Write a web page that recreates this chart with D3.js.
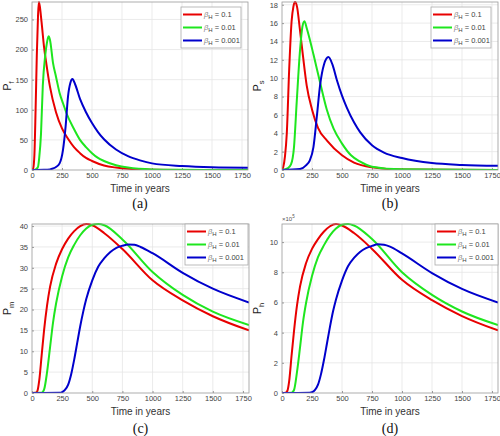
<!DOCTYPE html>
<html><head><meta charset="utf-8">
<script src="https://cdn.jsdelivr.net/npm/d3@7"></script>
<style>body{margin:0;background:#fff}svg{display:block}</style>
</head><body>
<svg id="c" width="500" height="436"></svg>
<script>
// ---- data ----
const xTicks = [0,250,500,750,1000,1250,1500,1750];
const seriesLabels = ["0.1","0.01","0.001"];
const seriesColors = ["#e80000","#1ee61e","#0000cc"];

// (a) P_f
const aRed   = [[0,0],[10,3],[20,25],[30,100],[40,190],[50,255],[57,279],[65,272],[80,245],[100,205],[120,176],[150,138],[200,96],[250,69],[300,52],[350,38],[400,28],[450,20],[500,15],[600,7.5],[700,4],[800,2],[1000,0.6],[1250,0.2],[1500,0.1],[1800,0]];
const aGreen = [[0,0],[25,0.5],[50,5],[60,20],[75,60],[90,140],[110,190],[125,212],[138,222],[150,216],[175,178],[200,155],[230,128],[260,110],[290,93],[350,68],[400,50],[450,38],[500,28],[550,20],[600,15],[700,8],[800,4],[1000,1],[1250,0.3],[1500,0.1],[1800,0]];
const aBlue  = [[0,0],[100,0.3],[150,1],[175,2.5],[200,5],[230,11],[258,33],[280,72],[300,122],[320,145],[337,151],[360,142],[400,118],[450,96],[500,78],[550,63],[600,51],[700,34],[800,23],[900,16],[1000,11],[1250,6.5],[1500,4.5],[1800,3.8]];
const aTicks = [0,50,100,150,200,250];

// (b) P_s
const bRed   = [[0,0],[10,0.3],[25,1.5],[40,4],[60,11],[80,16.2],[95,17.8],[109,18.3],[125,17.8],[150,15.2],[175,12.4],[206,9.2],[250,6.6],[300,4.6],[375,3.2],[500,1.6],[600,0.8],[750,0.3],[1000,0.05],[1800,0]];
const bGreen = [[0,0],[50,0.2],[75,0.6],[100,2.5],[123,7.5],[150,13],[170,15.6],[187,16.2],[205,15.5],[230,14.3],[262,12.6],[318,9.5],[373,6.6],[430,4.5],[499,2.9],[575,1.6],[652,0.9],[750,0.36],[1000,0.07],[1800,0]];
const bBlue  = [[0,0],[150,0.1],[200,0.5],[230,1],[262,2.5],[290,5.8],[318,9.3],[350,11.5],[387,12.3],[420,11.5],[457,9.8],[500,8.1],[540,6.8],[600,5.2],[652,4.1],[750,2.7],[850,1.9],[1000,1.3],[1250,0.75],[1500,0.55],[1800,0.45]];
const bTicks = [0,2,4,6,8,10,12,14,16,18];

// (c) P_m
const cRed   = [[0,0],[30,0.05],[45,0.5],[60,3],[80,9],[100,15],[125,21],[150,25.5],[200,31],[250,34.5],[300,37],[350,38.8],[400,40],[450,40.5],[500,40.2],[600,38.3],[750,34.5],[1000,27],[1250,22.2],[1500,18.4],[1800,15]];
const cGreen = [[0,0],[80,0.05],[100,0.8],[125,5],[150,11],[175,17],[200,21.5],[250,28],[300,32.5],[350,35.5],[400,37.8],[450,39.4],[500,40.3],[550,40.5],[600,40.2],[750,36.8],[1000,29],[1250,23.5],[1500,19.5],[1800,16.3]];
const cBlue  = [[0,0],[230,0.05],[250,0.2],[275,0.8],[300,2],[325,4.5],[350,8],[375,12],[400,16],[425,19.5],[450,22.5],[500,27],[550,30.3],[600,32.3],[650,33.8],[700,34.8],[750,35.3],[800,35.6],[850,35.5],[900,35],[1000,33.5],[1250,28.8],[1500,25],[1800,21.7]];
const cTicks = [0,5,10,15,20,25,30,35,40];

// (d) P_h (x 10^5)
const dRed   = [[0,0],[30,0.02],[45,0.15],[60,0.8],[80,2.5],[100,4.1],[125,5.8],[150,7.05],[200,8.6],[250,9.55],[300,10.2],[350,10.7],[400,11.05],[450,11.2],[500,11.1],[600,10.6],[750,9.55],[1000,7.5],[1250,6.15],[1500,5.1],[1800,4.15]];
const dGreen = [[0,0],[80,0.02],[100,0.2],[125,1.4],[150,3.0],[175,4.7],[200,5.95],[250,7.75],[300,9.0],[350,9.8],[400,10.45],[450,10.9],[500,11.15],[550,11.2],[600,11.1],[750,10.2],[1000,8.0],[1250,6.5],[1500,5.4],[1800,4.5]];
const dBlue  = [[0,0],[230,0.02],[250,0.05],[275,0.2],[300,0.55],[325,1.25],[350,2.2],[375,3.3],[400,4.4],[425,5.4],[450,6.2],[500,7.45],[550,8.4],[600,8.95],[650,9.35],[700,9.6],[750,9.75],[800,9.85],[850,9.82],[900,9.7],[1000,9.25],[1250,7.95],[1500,6.9],[1800,6.0]];
const dTicks = [0,2,4,6,8,10];

const panels = [
  {id:"(a)", sub:"f", series:[aRed,aGreen,aBlue], yMax:279, ticks:aTicks, box:[32,248,2,170], lab:{ylx:11, tx:192, cy:208}, leg:[181,7,60,41]},
  {id:"(b)", sub:"s", series:[bRed,bGreen,bBlue], yMax:18.3, ticks:bTicks, box:[282,498,2,170], lab:{ylx:261, tx:192, cy:208}, leg:[431,7,60,41]},
  {id:"(c)", sub:"m", series:[cRed,cGreen,cBlue], yMax:40.5, ticks:cTicks, box:[32,249,224,393], lab:{ylx:11, tx:415, cy:433}, leg:[185,224,63,41]},
  {id:"(d)", sub:"h", series:[dRed,dGreen,dBlue], yMax:11.2, ticks:dTicks, box:[282,498,224,393], lab:{ylx:261, tx:415, cy:433}, leg:[435,224,63,41], exp:"5"}
];

const svg = d3.select("#c");
const sans = "'Liberation Sans', Arial, sans-serif";

panels.forEach(p => {
  const [L,R,T,B] = p.box;
  const x = d3.scaleLinear().domain([0,1800]).range([L,R]);
  const y = d3.scaleLinear().domain([0,p.yMax]).range([B,T]);
  const g = svg.append("g");
  // grid
  g.selectAll(".gx").data(xTicks.filter(t=>t>0)).enter().append("line")
    .attr("x1",d=>x(d)).attr("x2",d=>x(d)).attr("y1",T).attr("y2",B)
    .attr("stroke","#e6e6e6").attr("stroke-width",0.8);
  g.selectAll(".gy").data(p.ticks.filter(t=>t>0)).enter().append("line")
    .attr("y1",d=>y(d)).attr("y2",d=>y(d)).attr("x1",L).attr("x2",R)
    .attr("stroke","#e6e6e6").attr("stroke-width",0.8);
  // axes
  const xa = g.append("g").attr("transform",`translate(0,${B})`)
    .call(d3.axisBottom(x).tickValues(xTicks).tickFormat(d3.format("d")).tickSize(-2).tickPadding(3));
  const ya = g.append("g").attr("transform",`translate(${L},0)`)
    .call(d3.axisLeft(y).tickValues(p.ticks).tickFormat(d3.format("d")).tickSize(-2).tickPadding(4));
  [xa,ya].forEach(a=>{
    a.select(".domain").remove();
    a.selectAll("line").attr("stroke","#999");
    a.selectAll("text").attr("font-family",sans).attr("font-size",7.5).attr("fill","#444");
  });
  // lines
  const line = d3.line().x(d=>x(d[0])).y(d=>y(d[1])).curve(d3.curveMonotoneX);
  const clipId = "clip"+p.sub;
  svg.append("clipPath").attr("id",clipId).append("rect").attr("x",L).attr("y",T-2).attr("width",R-L).attr("height",B-T+2);
  p.series.forEach((s,i)=>{
    g.append("path").datum(s).attr("d",line).attr("fill","none")
      .attr("stroke",seriesColors[i]).attr("stroke-width",2).attr("clip-path",`url(#${clipId})`);
  });
  // box
  g.append("rect").attr("x",L).attr("y",T).attr("width",R-L).attr("height",B-T)
    .attr("fill","none").attr("stroke","#999").attr("stroke-width",0.8);
  // exponent
  if (p.exp) {
    const t = g.append("text").attr("x",L).attr("y",T-3).attr("font-family",sans).attr("font-size",6).attr("fill","#555");
    t.append("tspan").text("\u00d710");
    t.append("tspan").attr("dy",-3).attr("font-size",4.5).text(p.exp);
  }
  // y label
  const yl = g.append("text").attr("transform",`translate(${p.lab.ylx},${(T+B)/2}) rotate(-90)`)
    .attr("text-anchor","middle").attr("font-family",sans).attr("font-size",11).attr("fill","#222");
  yl.append("tspan").text("P");
  yl.append("tspan").attr("dy",3).attr("font-size",7.5).text(p.sub);
  // x label
  g.append("text").attr("x",(L+R)/2).attr("y",p.lab.tx).attr("text-anchor","middle")
    .attr("font-family",sans).attr("font-size",10).attr("fill","#333").text("Time in years");
  g.append("text").attr("x",(L+R)/2).attr("y",p.lab.cy).attr("text-anchor","middle")
    .attr("font-family","'Liberation Serif', 'Times New Roman', serif").attr("font-size",14).attr("fill","#111").text(p.id);
  // legend
  const [lx,ly,lw,lh] = p.leg;
  g.append("rect").attr("x",lx).attr("y",ly).attr("width",lw).attr("height",lh)
    .attr("fill","#fff").attr("stroke","#aaa").attr("stroke-width",0.8);
  seriesLabels.forEach((lab,i)=>{
    const yy = ly + 7.5 + i*13;
    g.append("line").attr("x1",lx+2).attr("x2",lx+21).attr("y1",yy).attr("y2",yy)
      .attr("stroke",seriesColors[i]).attr("stroke-width",2);
    const t = g.append("text").attr("x",lx+23).attr("y",yy+2.5)
      .attr("font-family",sans).attr("font-size",7.5).attr("fill","#444");
    t.append("tspan").attr("font-style","italic").attr("fill","#888").text("\u03b2");
    t.append("tspan").attr("dy",2).attr("font-size",6).text("H");
    t.append("tspan").attr("dy",-2).text(" = " + lab);
  });
});
</script>
</body></html>
